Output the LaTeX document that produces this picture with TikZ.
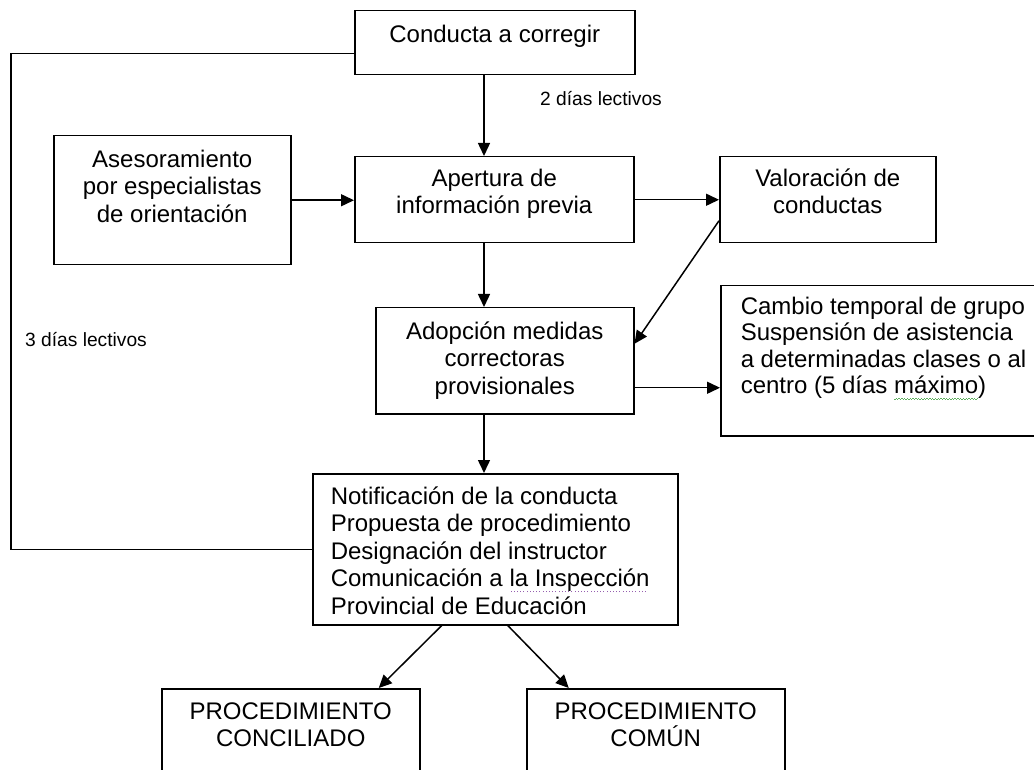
\documentclass[tikz,border=0pt]{standalone}
\usepackage{fontspec}
\setmainfont{Liberation Sans}
\usetikzlibrary{arrows.meta}

\definecolor{wavegreen}{RGB}{95,175,95}
\definecolor{dotpurple}{RGB}{150,95,175}
\newsavebox{\spellbox}
\newcommand{\wavyword}[1]{\sbox{\spellbox}{#1}\rlap{\color{wavegreen}\hbox to\wd\spellbox{\leaders\hbox{\rule[-3.3pt]{0.7pt}{0.45pt}\rule[-2.7pt]{0.7pt}{0.45pt}}\hfill}}\usebox{\spellbox}}
\newcommand{\dotword}[1]{\sbox{\spellbox}{#1}\rlap{\color{dotpurple}\hbox to\wd\spellbox{\leaders\hbox to 1.6pt{\hss\rule[-2.6pt]{0.55pt}{0.55pt}\hss}\hfill}}\usebox{\spellbox}}
\newcommand{\boxtext}[4]{\parbox[c][#2][t]{#1}{\lineskiplimit=-20pt\vspace*{#3}#4}}

\begin{document}
\begin{tikzpicture}[x=0.5pt,y=-0.5pt,>={Triangle[length=6.5pt,width=6pt]}]
\tikzstyle{every node}+=[inner sep=0pt]
\tikzstyle{box}=[draw,line width=0.75pt,anchor=north west,font=\fontsize{12}{13.75}\selectfont]
\tikzstyle{note}=[font=\fontsize{9.6}{11.5}\selectfont]
\tikzstyle{link}=[draw,line width=0.75pt]
\path[use as bounding box] (0,0) rectangle (1034,770);
\clip (0,0) rectangle (1034,770);
% boxes
\node[box] (conducta) at (354,10) {\boxtext{140pt}{32pt}{6.2pt}{\centering\strut Conducta a corregir}};
\node[box] (asesor) at (53,135) {\boxtext{118.5pt}{64.5pt}{6.2pt}{\centering\strut Asesoramiento\\ por especialistas\\ de orientación}};
\node[box] (apertura) at (354,156) {\boxtext{139.5pt}{43pt}{5.2pt}{\centering\strut Apertura de\\ información previa}};
\node[box] (valoracion) at (719,156) {\boxtext{108pt}{43pt}{5.2pt}{\centering\strut Valoración de\\ conductas}};
\node[box] (adopcion) at (375,307) {\boxtext{129pt}{53pt}{6.2pt}{\centering\strut Adopción medidas\\ correctoras\\ provisionales}};
\node[box,inner xsep=10pt] (cambio) at (720,285) {\boxtext{180pt}{75pt}{4.7pt}{\raggedright\baselineskip=13.2pt\strut Cambio temporal de grupo\\ Suspensión de asistencia\\ a determinadas clases o al\\ centro (5 días \wavyword{máximo})}};
\node[box,inner xsep=9pt] (notif) at (312,473) {\boxtext{164.5pt}{75.5pt}{5.7pt}{\raggedright\strut Notificación de la conducta\\ Propuesta de procedimiento\\ Designación del instructor\\ Comunicación a \dotword{la Inspección}\\ Provincial de Educación}};
\node[box] (conciliado) at (161,688) {\boxtext{129pt}{60pt}{5.7pt}{\centering\strut PROCEDIMIENTO\\ CONCILIADO}};
\node[box] (comun) at (526,688) {\boxtext{129pt}{60pt}{5.7pt}{\centering\strut PROCEDIMIENTO\\ COMÚN}};
% labels
\node[note] (dias2) at (601,99) {2 días lectivos};
\node[note] (dias3) at (86,340) {3 días lectivos};
% connectors
\coordinate (spine) at (484,0);
\coordinate (loop) at (11,300);
\draw[link,->] (conducta.south -| spine) -- (apertura.north -| spine);
\draw[link,->] (asesor.east) -- (asesor.east -| apertura.west);
\draw[link,->] (apertura.east) -- (apertura.east -| valoracion.west);
\draw[link,->] ([yshift=-10.5pt]valoracion.west) -- ([yshift=8.5pt]adopcion.east);
\draw[link,->] (apertura.south -| spine) -- (adopcion.north -| spine);
\draw[link,->] ([yshift=-13.5pt]adopcion.east) -- ([yshift=-13.5pt]adopcion.east -| cambio.west);
\draw[link,->] (adopcion.south -| spine) -- (notif.north -| spine);
\draw[link,->] ([xshift=-26.75pt]notif.south) -- ([xshift=44pt]conciliado.north);
\draw[link,->] ([xshift=6.25pt]notif.south) -- ([xshift=-43.5pt]comun.north);
\draw[link] ([yshift=-5.5pt]conducta.west) -| (loop) |- (notif.west);
\end{tikzpicture}
\end{document}
